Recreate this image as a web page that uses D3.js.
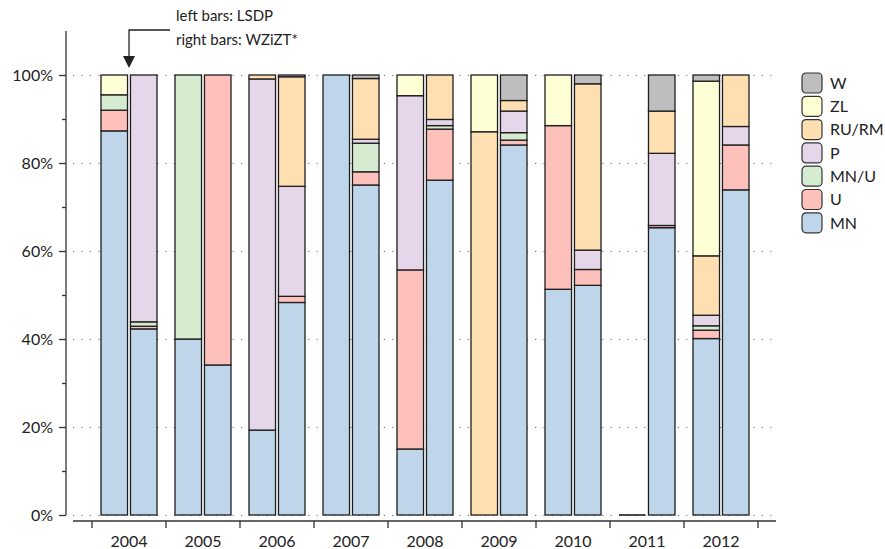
<!DOCTYPE html>
<html>
<head>
<meta charset="utf-8">
<script src="https://cdn.jsdelivr.net/npm/d3@7"></script>
<style>
	body { margin: 0; background: #fff; }
	text { font-family: Lato, "Open Sans", sans-serif; fill: #222; }
</style>
</head>
<body>
<div id="chart"></div>
<script>
(function() {
	// years and parties (stack order, bottom first)
	var years = [2004, 2005, 2006, 2007, 2008, 2009, 2010, 2011, 2012];
	var parties = ["MN", "U", "MN/U", "P", "RU/RM", "ZL", "W"];
	var colors = ["#bfd6ea", "#fdc0bb", "#d5ecd0", "#e5d6ea", "#fedfb2", "#ffffd6", "#bebebe"];

	// left bars: LSDP (percent)
	var mnL = [87.3, 40.0, 19.3, 100, 15.0, 0, 51.3, 0, 40.1];
	var uL = [4.7, 0, 0, 0, 40.7, 0, 37.2, 0, 1.9];
	var mnuL = [3.5, 60.0, 0, 0, 0, 0, 0, 0, 1.0];
	var pL = [0, 0, 79.8, 0, 39.6, 0, 0, 0, 2.4];
	var ruL = [0, 0, 0.9, 0, 0, 87.1, 0, 0, 13.5];
	var zlL = [4.5, 0, 0, 0, 4.7, 12.9, 11.5, 0, 39.7];
	var wL = [0, 0, 0, 0, 0, 0, 0, 0, 1.4];

	// right bars: WZiZT* (percent)
	var mnR = [42.3, 34.1, 48.3, 75.0, 76.1, 84.1, 52.2, 65.3, 73.9];
	var uR = [0.6, 65.9, 1.4, 3.0, 11.6, 1.1, 3.6, 0.5, 10.2];
	var mnuR = [1.0, 0, 0, 6.5, 0.8, 1.7, 0, 0, 0];
	var pR = [56.1, 0, 25.0, 0.9, 1.4, 4.9, 4.4, 16.4, 4.2];
	var ruR = [0, 0, 24.9, 13.8, 10.1, 2.4, 37.8, 9.6, 11.7];
	var zlR = [0, 0, 0, 0, 0, 0, 0, 0, 0];
	var wR = [0, 0, 0.4, 0.8, 0, 5.8, 2.0, 8.2, 0];

	var yTicks = [0, 0.2, 0.4, 0.6, 0.8, 1.0];

	var width = 885;
	var height = 549;

	var svg = d3.select("#chart")
		.append("svg")
		.attr("width", width)
		.attr("height", height);

	// build rows for the stack
	var leftCols = [mnL, uL, mnuL, pL, ruL, zlL, wL];
	var rightCols = [mnR, uR, mnuR, pR, ruR, zlR, wR];
	var rows = [];
	years.forEach(function(yr, i) {
		[["L", leftCols], ["R", rightCols]].forEach(function(side) {
			var row = { year: yr, side: side[0] };
			parties.forEach(function(p, j) { row[p] = side[1][j][i] / 100; });
			rows.push(row);
		});
	});

	var x = d3.scaleBand().domain(years).range([92, 758]);
	var xSide = d3.scaleBand().domain(["L", "R"]).range([9, 65]).paddingInner(0.1);
	var y = d3.scaleLinear().domain([0, 1.1]).range([515, 31]);
	var color = d3.scaleOrdinal().domain(parties).range(colors);

	// dotted grid lines
	svg.append("g")
		.selectAll("line")
		.data(yTicks)
		.enter()
		.append("line")
		.attr("x1", 73)
		.attr("x2", 777)
		.attr("y1", function(d) { return Math.round(y(d)) + 0.5; })
		.attr("y2", function(d) { return Math.round(y(d)) + 0.5; })
		.attr("stroke", "#666")
		.attr("stroke-width", 1.2)
		.attr("stroke-dasharray", "1.2,7.2");

	// stacked bars
	var series = d3.stack().keys(parties)(rows);
	var g = svg.append("g");
	series.forEach(function(s) {
		g.append("g")
			.selectAll("rect")
			.data(s.filter(function(d) { return d[1] - d[0] > 0; }))
			.enter()
			.append("rect")
			.attr("x", function(d) { return x(d.data.year) + xSide(d.data.side); })
			.attr("width", xSide.bandwidth())
			.attr("y", function(d) { return y(d[1]); })
			.attr("height", function(d) { return y(d[0]) - y(d[1]); })
			.attr("fill", color(s.key))
			.attr("stroke", "#1e1e1e")
			.attr("stroke-width", 1.3);
	});

	// empty bars drawn as a flat line
	g.append("g")
		.selectAll("line")
		.data(rows.filter(function(r) { return d3.sum(parties, function(p) { return r[p]; }) === 0; }))
		.enter()
		.append("line")
		.attr("x1", function(d) { return x(d.year) + xSide(d.side); })
		.attr("x2", function(d) { return x(d.year) + xSide(d.side) + xSide.bandwidth(); })
		.attr("y1", y(0))
		.attr("y2", y(0))
		.attr("stroke", "#1e1e1e")
		.attr("stroke-width", 1.6);

	// y axis
	var yAxis = svg.append("g")
		.attr("transform", "translate(66,0)")
		.call(d3.axisLeft(y)
			.tickValues(d3.range(0, 1.01, 0.1))
			.tickSize(4)
			.tickFormat(""));
	yAxis.select(".domain").attr("d", "M0," + y(1.1) + "V" + y(0)).attr("stroke", "#333").attr("stroke-width", 1.3);
	yAxis.selectAll(".tick line").attr("stroke", "#333").attr("stroke-width", 1.3);
	yAxis.selectAll(".tick")
		.filter(function(d) { return Math.round(d * 10) % 2 === 0; })
		.each(function(d) {
			var t = d3.select(this);
			t.select("line").attr("x2", -7);
			t.select("text").remove();
			t.append("text")
				.attr("x", -13)
				.attr("dy", "0.36em")
				.attr("text-anchor", "end")
				.style("font-size", "16px")
				.text(d3.format(".0%")(d));
		});

	// x axis
	var xAxis = svg.append("g")
		.attr("transform", "translate(0,521)");
	xAxis.append("line")
		.attr("x1", 73).attr("x2", 776)
		.attr("stroke", "#333").attr("stroke-width", 1.3);
	xAxis.selectAll(".xt")
		.data(years.concat([null]))
		.enter()
		.append("line")
		.attr("class", "xt")
		.attr("x1", function(d, i) { return i < years.length ? x(d) : x.range()[1]; })
		.attr("x2", function(d, i) { return i < years.length ? x(d) : x.range()[1]; })
		.attr("y1", 0).attr("y2", 7)
		.attr("stroke", "#333").attr("stroke-width", 1.3);
	xAxis.selectAll("text")
		.data(years)
		.enter()
		.append("text")
		.attr("x", function(d) { return x(d) + x.bandwidth() / 2; })
		.attr("y", 26)
		.attr("text-anchor", "middle")
		.style("font-size", "16px")
		.text(function(d) { return d; });

	// legend, top entry is the top of the stack
	var legend = svg.append("g")
		.selectAll("g")
		.data(parties.slice().reverse())
		.enter()
		.append("g")
		.attr("transform", function(d, i) { return "translate(802," + (73 + i * 23.3) + ")"; });
	legend.append("rect")
		.attr("width", 20).attr("height", 20)
		.attr("rx", 4)
		.attr("fill", function(d) { return color(d); })
		.attr("stroke", "#333")
		.attr("stroke-width", 1.2);
	legend.append("text")
		.attr("x", 28)
		.attr("y", 10)
		.attr("dy", "0.36em")
		.style("font-size", "16px")
		.text(function(d) { return d; });

	// note with arrow to the first pair of bars
	var ax = x(2004) + xSide("L") + xSide.bandwidth() + 1.5;
	svg.append("path")
		.attr("d", "M170,30H" + ax + "V58")
		.attr("fill", "none")
		.attr("stroke", "#222")
		.attr("stroke-width", 1.3);
	svg.append("path")
		.attr("d", "M" + (ax - 6) + ",56L" + (ax + 6) + ",56L" + ax + ",68Z")
		.attr("fill", "#222");
	svg.append("text")
		.attr("x", 176).attr("y", 21)
		.style("font-size", "15px")
		.text("left bars: LSDP");
	svg.append("text")
		.attr("x", 176).attr("y", 45)
		.style("font-size", "15px")
		.text("right bars: WZiZT*");
})();
</script>
</body>
</html>
